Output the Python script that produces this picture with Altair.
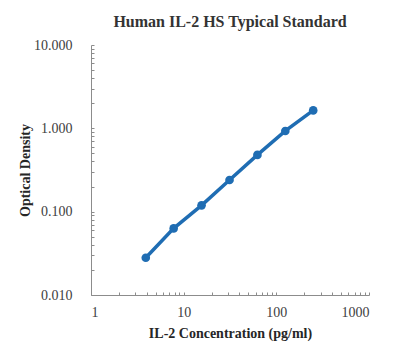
import altair as alt
import pandas as pd

conc = [3.9, 7.8, 15.6, 31.25, 62.5, 125, 250]
od = [0.028, 0.063, 0.119, 0.24, 0.48, 0.93, 1.64]

x_major = [1, 10, 100, 1000]
y_major = [0.01, 0.1, 1, 10]
x_minor = [1, 2, 3, 4, 5, 6, 7, 8, 9, 10, 20, 30, 40, 50, 60, 70, 80, 90,
           100, 200, 300, 400, 500, 600, 700, 800, 900, 1000]
y_minor = [0.01, 0.02, 0.03, 0.04, 0.05, 0.06, 0.07, 0.08, 0.09,
           0.1, 0.2, 0.3, 0.4, 0.5, 0.6, 0.7, 0.8, 0.9,
           1, 2, 3, 4, 5, 6, 7, 8, 9, 10]

df = pd.DataFrame({"conc": conc, "od": od})

W, H = 278, 250
FONT = "Liberation Serif"
BLUE = "#1f6db3"
AX = "#8c8c8c"

xs = alt.Scale(type="log", domain=[1, 1000])
ys = alt.Scale(type="log", domain=[0.01, 10])

base = alt.Chart(df)

main_x = alt.X("conc:Q", scale=xs, axis=alt.Axis(
    values=x_major, format="d", tickSize=0, labelPadding=10,
    labelFont=FONT, labelFontSize=14, labelColor="#404040",
    domainColor=AX, grid=False,
    title="IL-2 Concentration (pg/ml)", titleFont=FONT, titleFontSize=14,
    titleFontWeight="bold", titleColor="#262626", titlePadding=7))
main_y = alt.Y("od:Q", scale=ys, axis=alt.Axis(
    values=y_major, format=".3f", tickSize=0, labelPadding=19,
    labelFont=FONT, labelFontSize=14, labelColor="#404040",
    domainColor=AX, grid=False,
    title="Optical Density", titleFont=FONT, titleFontSize=14,
    titleFontWeight="bold", titleColor="#262626", titlePadding=1))

line = base.mark_line(color=BLUE, strokeWidth=3.5).encode(x=main_x, y=main_y)
pts = base.mark_circle(color=BLUE, size=75, opacity=1).encode(
    x=alt.X("conc:Q", scale=xs, axis=None),
    y=alt.Y("od:Q", scale=ys, axis=None))

ticks = base.mark_point(opacity=0).encode(
    x=alt.X("conc:Q", scale=xs, axis=alt.Axis(
        orient="top", offset=-H, values=x_minor, labels=False, domain=False,
        tickSize=3, tickColor=AX, grid=False, title=None)),
    y=alt.Y("od:Q", scale=ys, axis=alt.Axis(
        orient="right", offset=-W, values=y_minor, labels=False, domain=False,
        tickSize=3, tickColor=AX, grid=False, title=None)),
)

chart = alt.layer(line, pts, ticks).resolve_axis(
    x="independent", y="independent"
).properties(
    width=W, height=H,
    title=alt.TitleParams("Human IL-2 HS Typical Standard", font=FONT,
                          fontSize=16, fontWeight="bold", color="#333333",
                          anchor="middle", offset=8),
    autosize=alt.AutoSizeParams(type="none"),
    padding={"left": 83, "top": 37, "right": 30, "bottom": 60},
).configure_view(stroke=None)

chart.save("out.html", embed_options={"renderer": "svg", "actions": False})
